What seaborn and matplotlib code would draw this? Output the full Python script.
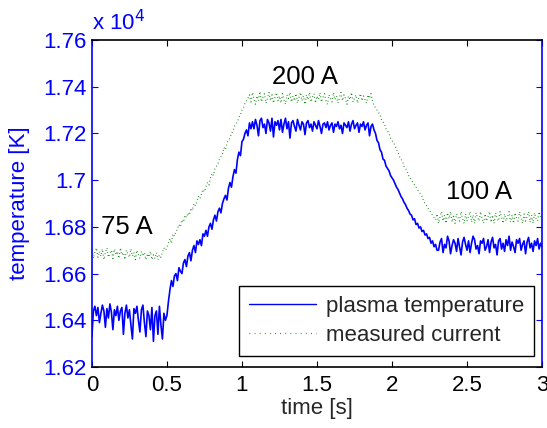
import numpy as np
import pandas as pd
import matplotlib
matplotlib.use("Agg")
import matplotlib.pyplot as plt
import seaborn as sns
from matplotlib.ticker import FuncFormatter
from matplotlib.lines import Line2D

# ---- data (K), sampled every 0.01 s from 0 to 3 s ----
temp_flat75 = [16330, 16440, 16460, 16420, 16455, 16390, 16430, 16465, 16440, 16370,
               16450, 16410, 16470, 16435, 16360, 16445, 16420, 16460, 16400, 16440,
               16455, 16340, 16430, 16465, 16410, 16445, 16380, 16320, 16450, 16430,
               16460, 16400, 16350, 16445, 16465, 16390, 16330, 16440, 16420, 16360,
               16455, 16310, 16420, 16440, 16340, 16460, 16380, 16320, 16430, 16400,
               16420]
temp_rise = [16480, 16530, 16570, 16545, 16590, 16600, 16570, 16625, 16610, 16600,
             16645, 16660, 16630, 16675, 16690, 16655, 16700, 16720, 16690, 16740,
             16725, 16745, 16720, 16770, 16760, 16785, 16760, 16800, 16815, 16790,
             16830, 16850, 16825, 16865, 16880, 16860, 16900, 16920, 16935, 16915,
             16965, 16990, 16970, 17015, 17045, 17030, 17090, 17120, 17105, 17165,
             17175, 17200, 17215, 17190, 17245, 17220]
temp_flat200 = [17250, 17220, 17260, 17235, 17190, 17255, 17265, 17225, 17240, 17200,
                17260, 17245, 17210, 17265, 17185, 17250, 17235, 17255, 17215, 17260,
                17205, 17240, 17265, 17220, 17250, 17180, 17245, 17255, 17230, 17210,
                17260, 17235, 17215, 17250, 17240, 17195, 17245, 17255, 17225, 17240,
                17210, 17250, 17235, 17220, 17255, 17230, 17200, 17240, 17245, 17225,
                17250, 17215, 17235, 17245, 17205, 17240, 17230, 17250, 17220, 17235,
                17200, 17245, 17235, 17225, 17250, 17210, 17240, 17255, 17220, 17235,
                17245, 17205, 17240, 17230, 17250, 17215, 17235, 17245, 17190, 17230]
temp_fall = [17240, 17215, 17200, 17170, 17160, 17130, 17120, 17090, 17085, 17060,
             17050, 17040, 17020, 17010, 17000, 16985, 16970, 16960, 16945, 16930,
             16920, 16905, 16895, 16880, 16870, 16855, 16850, 16830, 16835, 16810,
             16815, 16795, 16800, 16780, 16785, 16765, 16770, 16750, 16755, 16730,
             16740, 16715, 16725, 16700]
temp_flat100 = [16700, 16735, 16750, 16690, 16725, 16710, 16760, 16740, 16685, 16720,
                16745, 16730, 16695, 16750, 16715, 16680, 16735, 16755, 16725, 16700,
                16740, 16690, 16730, 16760, 16745, 16705, 16720, 16685, 16740, 16730,
                16750, 16700, 16715, 16745, 16690, 16735, 16755, 16710, 16725, 16680,
                16740, 16750, 16705, 16730, 16695, 16745, 16720, 16760, 16700, 16735,
                16715, 16690, 16745, 16730, 16750, 16700, 16725, 16740, 16685, 16735,
                16755, 16710, 16730, 16695, 16740, 16720, 16750, 16705, 16730, 16715]

cur_flat75 = [16700, 16665, 16690, 16710, 16670, 16695, 16675, 16705, 16660, 16690,
              16710, 16670, 16685, 16700, 16665, 16705, 16680, 16695, 16665, 16710,
              16680, 16690, 16660, 16700, 16685, 16670, 16705, 16675, 16690, 16660,
              16700, 16680, 16665, 16695, 16675, 16690, 16660, 16685, 16670, 16695,
              16660, 16680, 16665, 16690, 16660, 16680, 16670]
cur_rise = [16690, 16710, 16700, 16710, 16730, 16750, 16730, 16770, 16760, 16780,
            16790, 16810, 16800, 16830, 16820, 16850, 16840, 16860, 16850, 16880,
            16870, 16900, 16890, 16910, 16930, 16920, 16940, 16960, 16950, 16970,
            16990, 16980, 17010, 17030, 17020, 17050, 17060, 17070, 17090, 17100,
            17110, 17140, 17130, 17160, 17170, 17180, 17200, 17210, 17230, 17240,
            17250, 17270, 17280, 17300, 17310, 17330, 17340, 17350]
cur_flat200 = [17365, 17335, 17375, 17345, 17325, 17360, 17340, 17380, 17335, 17355,
               17370, 17330, 17350, 17375, 17340, 17365, 17330, 17355, 17375, 17340,
               17360, 17330, 17370, 17345, 17325, 17365, 17350, 17375, 17335, 17360,
               17340, 17370, 17330, 17355, 17375, 17340, 17360, 17325, 17365, 17345,
               17375, 17335, 17355, 17370, 17330, 17360, 17345, 17375, 17335, 17355,
               17370, 17340, 17325, 17365, 17350, 17335, 17375, 17345, 17360, 17330,
               17355, 17375, 17340, 17365, 17350, 17325, 17360, 17345, 17375, 17335,
               17350, 17365, 17330, 17355, 17370, 17340, 17360, 17345, 17330, 17365,
               17350, 17370, 17340]
cur_fall = [17320, 17310, 17300, 17290, 17280, 17260, 17250, 17240, 17220, 17210,
            17200, 17180, 17170, 17160, 17150, 17130, 17120, 17100, 17090, 17080,
            17060, 17050, 17040, 17020, 17010, 17000, 16990, 16980, 16970, 16960,
            16950, 16940, 16930, 16910, 16900, 16890, 16880, 16870, 16860, 16850,
            16840]
cur_flat100 = [16830, 16855, 16815, 16845, 16865, 16825, 16850, 16815, 16860, 16835,
               16865, 16820, 16845, 16815, 16855, 16840, 16825, 16865, 16835, 16815,
               16855, 16825, 16845, 16865, 16820, 16850, 16815, 16860, 16840, 16825,
               16865, 16835, 16815, 16855, 16825, 16845, 16865, 16820, 16850, 16815,
               16860, 16835, 16825, 16865, 16840, 16815, 16855, 16825, 16845, 16865,
               16820, 16850, 16815, 16860, 16835, 16825, 16865, 16840, 16815, 16855,
               16825, 16845, 16865, 16820, 16850, 16815, 16860, 16835, 16825, 16865,
               16840, 16830]

labels = ["75 A", "200 A", "100 A"]
label_t = [0.23, 1.42, 2.58]
label_v = [16800, 17442, 16950]
xticks = [0, 0.5, 1, 1.5, 2, 2.5, 3]
yticks = [16200, 16400, 16600, 16800, 17000, 17200, 17400, 17600]

temperature = temp_flat75 + temp_rise + temp_flat200 + temp_fall + temp_flat100
current = cur_flat75 + cur_rise + cur_flat200 + cur_fall + cur_flat100
df_t = pd.DataFrame({"t": np.linspace(0, 3, len(temperature)), "v": temperature})
df_c = pd.DataFrame({"t": np.linspace(0, 3, len(current)), "v": current})

sns.set_style("white")
plt.rcParams["font.family"] = ["Liberation Sans", "DejaVu Sans"]
BLUE = "#0000ff"
GREEN = "#008000"
FS = 16

fig = plt.figure(figsize=(5.47, 4.28), dpi=100)
ax = fig.add_axes([0.168, 0.1425, 0.823, 0.764])

sns.lineplot(data=df_c, x="t", y="v", ax=ax, color=GREEN, linestyle=(0, (0.6, 2.2)),
             linewidth=0.9, estimator=None, legend=False)
sns.lineplot(data=df_t, x="t", y="v", ax=ax, color=BLUE, linewidth=1.2,
             estimator=None, legend=False)

ax.set_xlim(0, 3)
ax.set_ylim(16200, 17600)
ax.set_xticks(xticks)
ax.set_yticks(yticks)
ax.xaxis.set_major_formatter(FuncFormatter(lambda v, p: f"{v:g}"))
ax.yaxis.set_major_formatter(FuncFormatter(lambda v, p: f"{v/1e4:g}"))

ax.tick_params(axis="x", direction="in", length=4, width=0.8, top=True, bottom=True,
               labelsize=FS, colors="black", pad=6)
ax.tick_params(axis="y", direction="in", length=4, width=0.8, left=True, right=True,
               labelsize=FS, colors=BLUE, pad=4)
for s in ["left", "right"]:
    ax.spines[s].set_color(BLUE)
    ax.spines[s].set_linewidth(1.2)
for s in ["top", "bottom"]:
    ax.spines[s].set_color("black")
    ax.spines[s].set_linewidth(1.2)

ax.set_xlabel("time [s]", fontsize=FS, labelpad=1)
ax.set_ylabel("temperature [K]", fontsize=FS, color=BLUE, labelpad=9)
ax.text(0.0, 1.015, r"x 10$^{4}$", transform=ax.transAxes, fontsize=FS,
        color=BLUE, ha="left", va="bottom")

for lab, t, v in zip(labels, label_t, label_v):
    ax.text(t, v, lab, fontsize=18.5, ha="center", va="center", color="black")

handles = [Line2D([0], [0], color=BLUE, linewidth=1.0),
           Line2D([0], [0], color=GREEN, linewidth=0.9, linestyle=(0, (0.6, 3.5)))]
leg = ax.legend(handles, ["plasma temperature", "measured current"], loc="lower right",
                bbox_to_anchor=(0.982, 0.034), borderaxespad=0, fontsize=FS,
                frameon=True, fancybox=False, framealpha=1, edgecolor="black",
                handlelength=3.0, handletextpad=0.45, borderpad=0.45, labelspacing=0.35)
leg.get_frame().set_linewidth(1.0)

fig.savefig("out.png", dpi=100)
